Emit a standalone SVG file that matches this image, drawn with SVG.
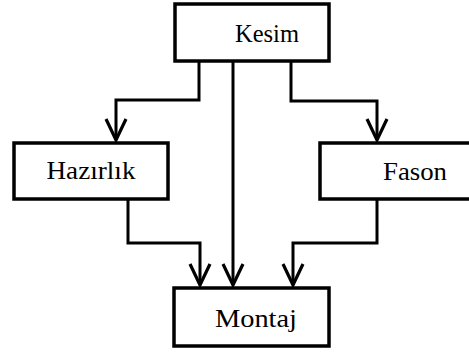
<svg xmlns="http://www.w3.org/2000/svg" width="469" height="354" viewBox="0 0 469 354">
<style>
.box{fill:#fff;stroke:#000;stroke-width:3.5}
.lbl{font-family:"Liberation Serif","Times New Roman",serif;font-size:26px;fill:#000;text-anchor:middle}
.con{fill:none;stroke:#000;stroke-width:3;marker-end:url(#arr)}
</style>
<defs>
<marker id="arr" markerUnits="userSpaceOnUse" viewBox="-24 -13 26 26" markerWidth="26" markerHeight="26" refX="0" refY="0" orient="auto" overflow="visible">
<path d="M-21,-10 L0,0 L-21,10" fill="none" stroke="#000" stroke-width="3.2"/>
</marker>
</defs>
<rect width="469" height="354" fill="#fff"/>
<g id="connectors">
<path class="con" d="M199,62 V100 H116 V140"/>
<path class="con" d="M233,62 V285"/>
<path class="con" d="M291,62 V101 H377 V140"/>
<path class="con" d="M128,200 V243 H200 V285"/>
<path class="con" d="M377,200 V243 H293 V285"/>
</g>
<g id="kesim">
<rect class="box" x="175" y="4" width="154" height="57"/>
<text class="lbl" x="267" y="42" textLength="64" lengthAdjust="spacingAndGlyphs">Kesim</text>
</g>
<g id="hazirlik">
<rect class="box" x="14" y="143" width="154" height="56"/>
<text class="lbl" x="91" y="179" textLength="89" lengthAdjust="spacingAndGlyphs">Hazırlık</text>
</g>
<g id="fason">
<rect class="box" x="320" y="143" width="160" height="56"/>
<text class="lbl" x="415" y="180" textLength="64" lengthAdjust="spacingAndGlyphs">Fason</text>
</g>
<g id="montaj">
<rect class="box" x="174" y="288" width="155" height="58"/>
<text class="lbl" x="256" y="327" textLength="82" lengthAdjust="spacingAndGlyphs">Montaj</text>
</g>
</svg>
